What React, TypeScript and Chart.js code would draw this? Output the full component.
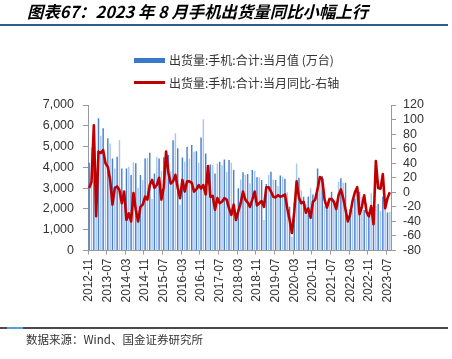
import React, { useEffect, useRef } from 'react';
import { Chart, registerables } from 'chart.js';

Chart.register(...registerables);

// Monthly categories 2012-11 .. 2023-08
const START_YEAR = 2012;
const START_MONTH = 11;
const MONTH_COUNT = 130;
const months: string[] = [];
for (let k = 0; k < MONTH_COUNT; k++) {
  const m0 = START_MONTH - 1 + k;
  const y = START_YEAR + Math.floor(m0 / 12);
  const m = (m0 % 12) + 1;
  months.push(`${y}-${m < 10 ? '0' + m : m}`);
}

const xTickLabels = [
  '2012-11', '2013-07', '2014-03', '2014-11', '2015-07', '2016-03', '2016-11', '2017-07',
  '2018-03', '2018-11', '2019-07', '2020-03', '2020-11', '2021-07', '2022-03', '2022-11', '2023-07',
];

// 出货量:手机:合计:当月值（万台）
const shipments = [
  4220, 4950, 4650, 2100, 6360, 5520, 5880, 4300, 5400, 5150,
  4430, 3950, 4510, 5310, 3950, 2150, 3950, 4030, 3630, 4240,
  4200, 3020, 3630, 3390, 4430, 4460, 4700, 2480, 3710, 4510,
  4430, 3820, 4490, 4500, 4600, 3810, 5310, 5640, 4920, 2190,
  4480, 4270, 4990, 4430, 5070, 4750, 4780, 4220, 5440, 6310,
  4670, 3000, 4140, 4110, 3710, 4190, 4270, 4110, 4380, 3790,
  4350, 4220, 3870, 1870, 2990, 3420, 3760, 3630, 3680, 3230,
  3870, 3820, 3520, 3520, 3390, 1470, 3200, 3630, 3790, 3420,
  3390, 3100, 3610, 3550, 3450, 2800, 2110, 660, 2300, 4190,
  3500, 2900, 2580, 2230, 2600, 2990, 2700, 2590, 3950, 3580,
  3580, 2140, 2140, 2590, 2830, 2430, 2300, 3310, 3470, 3260,
  3260, 1500, 2000, 1950, 2500, 2910, 2830, 2590, 1950, 2270,
  1710, 2750, 1710, 2140, 2240, 1900, 2590, 2030, 1830, 1870,
];

// 出货量:手机:合计:当月同比（%，右轴）
const yoy = [
  6, 14, 92, -33, 56, 54, 58, 40, 35, 17,
  -17, 6, 8, 3, -15, 1, -38, -29, -40, -1,
  -24, -40, -20, -17, -6, -10, 10, 17, 6, 10,
  20, -10, 7, 56, 27, 12, 15, 24, 6, -8,
  17, 1, 15, 15, 13, 1, 4, 10, 5, 10,
  -3, 36, -6, -5, -24, -8, -15, -13, -8, -10,
  -22, -31, -17, -38, -26, -15, 1, -10, -14, -20,
  -10, 1, -18, -15, -12, -20, 7, 7, 1, -6,
  -7, -4, -6, -5, -3, -22, -38, -56, -27, 15,
  -7, -15, -13, -28, -22, -35, -13, -10, 5, 21,
  18, -10, -21, -10, -9, -13, -23, -4, 4, -8,
  -24, -40, -30, -12, 0, 7, -30, -20, -4, -27,
  -33, -19, -44, 43, 6, 5, 25, -22, -8, 0,
];

const BAR_DARK = '#4a7fd0';
const BAR_LIGHT = '#a9c6ec';
const LINE_RED = '#c00000';
const AXIS_GRAY = '#9a9a9a';
const TEXT = '#333333';

export default function App() {
  const canvasRef = useRef<HTMLCanvasElement | null>(null);

  useEffect(() => {
    const canvas = canvasRef.current;
    if (!canvas) return;
    const tickFont = { family: '"Liberation Sans", Arial, sans-serif', size: 12 };
    const chart = new Chart(canvas, {
      type: 'bar',
      data: {
        labels: months,
        datasets: [
          {
            type: 'line' as const,
            label: '出货量:手机:合计:当月同比-右轴',
            data: yoy,
            yAxisID: 'y1',
            borderColor: LINE_RED,
            backgroundColor: LINE_RED,
            borderWidth: 2.6,
            pointRadius: 0,
            tension: 0,
            borderJoinStyle: 'round' as const,
            order: 1,
          },
          {
            type: 'bar' as const,
            label: '出货量:手机:合计:当月值（万台）',
            data: shipments,
            yAxisID: 'y',
            backgroundColor: shipments.map((_, i) => (i % 2 === 0 ? BAR_DARK : BAR_LIGHT)),
            borderWidth: 0,
            categoryPercentage: 1,
            barPercentage: 0.62,
            order: 2,
          },
        ],
      },
      options: {
        responsive: false,
        animation: false,
        devicePixelRatio: 1,
        layout: { padding: { top: 105, left: 0, right: 0, bottom: 0 } },
        plugins: { legend: { display: false }, tooltip: { enabled: false }, title: { display: false } },
        scales: {
          x: {
            offset: true,
            grid: {
              offset: true,
              drawOnChartArea: false,
              drawTicks: true,
              tickLength: 4,
              color: (ctx: any) => (ctx.index % 8 === 0 ? AXIS_GRAY : 'rgba(0,0,0,0)'),
              tickColor: (ctx: any) => (ctx.index % 8 === 0 ? AXIS_GRAY : 'rgba(0,0,0,0)'),
            },
            border: { display: true, color: AXIS_GRAY, width: 1 },
            ticks: {
              autoSkip: false,
              minRotation: 90,
              maxRotation: 90,
              padding: 4,
              color: TEXT,
              font: tickFont,
              callback: function (this: any, value: any) {
                const lab = this.getLabelForValue(value);
                return xTickLabels.includes(lab) ? lab : '';
              },
            },
            afterFit: (scale: any) => {
              scale.height = 108.5;
            },
          },
          y: {
            position: 'left',
            min: 0,
            max: 7000,
            grid: { drawOnChartArea: false, drawTicks: true, tickLength: 5, color: AXIS_GRAY },
            border: { display: true, color: AXIS_GRAY, width: 1 },
            ticks: {
              autoSkip: false,
              stepSize: 1000,
              padding: 9,
              color: TEXT,
              font: { ...tickFont, size: 12.5 },
              callback: (v: any) => Number(v).toLocaleString('en-US'),
            },
            afterFit: (scale: any) => {
              scale.width = 88;
            },
          },
          y1: {
            position: 'right',
            min: -80,
            max: 120,
            grid: { drawOnChartArea: false, drawTicks: true, tickLength: 5, color: AXIS_GRAY },
            border: { display: true, color: AXIS_GRAY, width: 1 },
            ticks: {
              autoSkip: false,
              stepSize: 20,
              padding: 7,
              color: TEXT,
              font: { ...tickFont, size: 12.5 },
            },
            afterFit: (scale: any) => {
              scale.width = 61;
            },
          },
        },
      },
    });
    return () => chart.destroy();
  }, []);

  const cjk = '"Noto Sans CJK SC", "Noto Sans", sans-serif';

  return (
    <div
      style={{
        position: 'fixed',
        left: 0,
        top: 0,
        width: 452,
        height: 359,
        background: '#ffffff',
        overflow: 'hidden',
      }}
    >
      <canvas ref={canvasRef} width={452} height={359} style={{ position: 'absolute', left: 0, top: 0 }} />
      <div
        style={{
          position: 'absolute',
          left: 27,
          top: 0,
          fontFamily: cjk,
          fontWeight: 700,
          fontStyle: 'italic',
          fontSize: 16.4,
          lineHeight: '22px',
          color: '#000',
          whiteSpace: 'nowrap',
        }}
      >
        图表67：2023 年 8 月手机出货量同比小幅上行
      </div>
      <div style={{ position: 'absolute', left: 0, top: 24, width: 448, height: 2, background: '#2c5d8c' }} />
      <div style={{ position: 'absolute', left: 134, top: 58, width: 31, height: 5, background: '#3b78c8' }} />
      <div
        style={{
          position: 'absolute',
          left: 169,
          top: 51,
          fontFamily: cjk,
          fontSize: 12,
          lineHeight: '18px',
          color: TEXT,
          whiteSpace: 'nowrap',
        }}
      >
        出货量:手机:合计:当月值 (万台)
      </div>
      <div style={{ position: 'absolute', left: 134, top: 81, width: 31, height: 3, background: LINE_RED }} />
      <div
        style={{
          position: 'absolute',
          left: 169,
          top: 73.5,
          fontFamily: cjk,
          fontSize: 12,
          lineHeight: '18px',
          color: TEXT,
          whiteSpace: 'nowrap',
        }}
      >
        出货量:手机:合计:当月同比-右轴
      </div>
      <div style={{ position: 'absolute', left: 0, top: 327, width: 448, height: 1.5, background: '#4a4a4a' }} />
      <div style={{ position: 'absolute', left: 7, top: 326.5, width: 16, height: 2, background: '#5a9fd6' }} />
      <div
        style={{
          position: 'absolute',
          left: 26,
          top: 331,
          fontFamily: cjk,
          fontSize: 11.5,
          lineHeight: '16px',
          color: TEXT,
          whiteSpace: 'nowrap',
        }}
      >
        数据来源：Wind、国金证券研究所
      </div>
    </div>
  );
}
